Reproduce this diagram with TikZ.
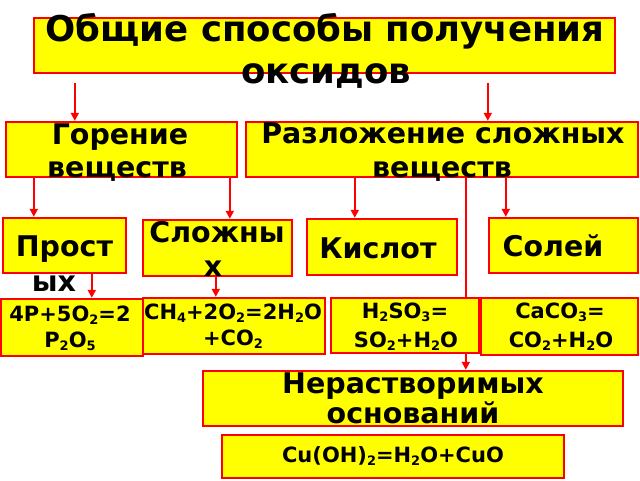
\documentclass[tikz,border=0pt]{standalone}
\usepackage{fontspec}
\setmainfont{DejaVu Sans}
\usetikzlibrary{arrows.meta,backgrounds}
\definecolor{yel}{RGB}{255,255,0}
\definecolor{rd}{RGB}{255,0,0}
\newcommand{\sbx}[1]{\raisebox{-0.32ex}{\fontsize{13}{13}\selectfont\bfseries #1}}
\tikzset{
  box/.style={draw=rd, fill=yel, line width=2.4pt, inner sep=0pt},
  big/.style={font=\fontsize{35.5}{42}\selectfont\bfseries, inner sep=0pt, anchor=base},
  mid/.style={font=\fontsize{28.5}{32}\selectfont\bfseries, inner sep=0pt, anchor=base},
  sml/.style={font=\fontsize{21}{26}\selectfont\bfseries, inner sep=0pt, anchor=base},
  arr/.style={draw=rd, line width=2.2pt, -{Triangle[length=8pt,width=8pt]}}
}
\begin{document}
\begin{tikzpicture}[x=1pt,y=-1pt]
\useasboundingbox (0,0) rectangle (640,480);
% boxes
\node[box, minimum width=581pt, minimum height=55pt] (title) at (324.5,45.5) {};
\node[box, minimum width=231pt, minimum height=55pt] (gor) at (121.5,149.5) {};
\node[box, minimum width=392pt, minimum height=55pt] (raz) at (442,149.5) {};
\node[box, minimum width=123pt, minimum height=55pt] (prost) at (64.5,245.5) {};
\node[box, minimum width=149pt, minimum height=56pt] (slozh) at (217.5,248) {};
\node[box, minimum width=150pt, minimum height=56pt] (kisl) at (382,247) {};
\node[box, minimum width=149pt, minimum height=55pt] (sol) at (563.5,245.5) {};
\node[box, minimum width=142pt, minimum height=57pt] (r1) at (72,327.5) {};
\node[box, minimum width=182pt, minimum height=56pt] (r2) at (234,326) {};
\node[box, minimum width=148pt, minimum height=55pt] (r3) at (405,325.5) {};
\node[box, minimum width=157pt, minimum height=57pt] (r4) at (559.5,326.5) {};
\node[box, minimum width=420pt, minimum height=55pt] (ner) at (413,398.5) {};
\node[box, minimum width=342pt, minimum height=43pt] (cu) at (393,456.5) {};
% connector coordinates
\path (title.south west) ++(42pt,-9pt) coordinate (p1);
\path (title.south west) ++(455pt,-9pt) coordinate (p2);
\path (gor.south west) ++(29pt,0pt) coordinate (p3);
\path (gor.south west) ++(225pt,0pt) coordinate (p4);
\path (raz.south west) ++(110pt,0pt) coordinate (p5);
\path (raz.south west) ++(261pt,0pt) coordinate (p6);
\path (raz.south west) ++(221pt,0pt) coordinate (p7);
\path (prost.south west) ++(90pt,0pt) coordinate (p8);
\path (slozh.south west) ++(74pt,0pt) coordinate (p9);
% connectors
\draw[arr] (p1) -- (p1 |- gor.north);
\draw[arr] (p2) -- (p2 |- raz.north);
\draw[arr] (p3) -- (p3 |- prost.north);
\draw[arr] (p4) -- (p4 |- slozh.north);
\draw[arr] (p5) -- (p5 |- kisl.north);
\draw[arr] (p6) -- (p6 |- sol.north);
\draw[arr] (p8) -- (p8 |- r1.north);
\draw[arr] (p9) -- (p9 |- r2.north);
\begin{scope}[on background layer]
\draw[arr] (p7) -- (p7 |- ner.north);
\end{scope}
% texts
\node[big] (t1a) at (325,41) {Общие способы получения};
\node[big] (t1b) at (326,83) {оксидов};
\node[mid] (t2a) at (120,144) {Горение};
\node[mid] (t2b) at (117,177) {веществ};
\node[mid] (t3a) at (443,143) {Разложение сложных};
\node[mid] (t3b) at (442,177) {веществ};
\node[mid] (t4a) at (64.5,256) {Прост};
\node[mid] (t4b) at (54,291) {ых};
\node[mid] (t5a) at (217,242) {Сложны};
\node[mid] (t5b) at (213,276) {х};
\node[mid] (t6) at (378,258) {Кислот};
\node[mid] (t7) at (553,256) {Солей};
\node[sml] (t8a) at (70,321) {4P+5O\sbx{2}=2};
\node[sml] (t8b) at (70,347) {P\sbx{2}O\sbx{5}};
\node[sml] (t9a) at (233,319) {CH\sbx{4}+2O\sbx{2}=2H\sbx{2}O};
\node[sml] (t9b) at (233,345) {+CO\sbx{2}};
\node[sml] (t10a) at (405,318) {H\sbx{2}SO\sbx{3}=};
\node[sml] (t10b) at (406,347) {SO\sbx{2}+H\sbx{2}O};
\node[sml] (t11a) at (560,318) {CaCO\sbx{3}=};
\node[sml] (t11b) at (561,347) {CO\sbx{2}+H\sbx{2}O};
\node[mid] (t12a) at (413,393) {Нерастворимых};
\node[mid] (t12b) at (413,423) {оснований};
\node[sml] (t13) at (393,462) {Cu(OH)\sbx{2}=H\sbx{2}O+CuO};
\end{tikzpicture}
\end{document}
